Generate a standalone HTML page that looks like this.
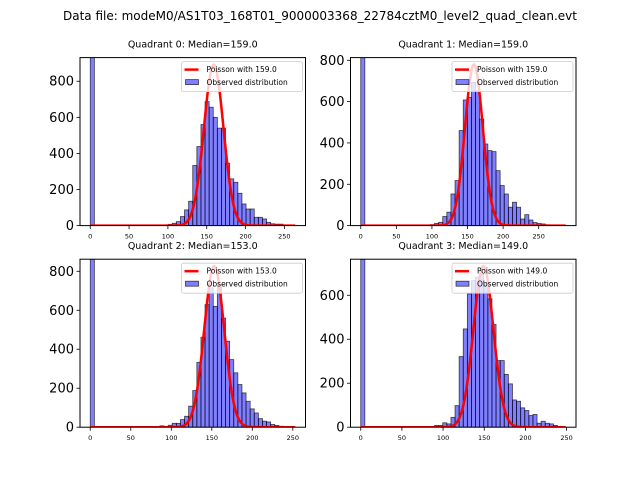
<!DOCTYPE html>
<html><head><meta charset="utf-8">
<style>
body{margin:0;background:#fff;}
svg{display:block;font-family:"DejaVu Sans","Liberation Sans",sans-serif;}
</style></head>
<body>
<svg id="fig" width="640" height="480" viewBox="0 0 640 480">
<rect width="640" height="480" fill="#fff"/>
<text x="320" y="20" text-anchor="middle" font-size="12">Data file: modeM0/AS1T03_168T01_9000003368_22784cztM0_level2_quad_clean.evt</text>
</svg>
<script>
// ---- data ----
const quadNames = ["Quadrant 0","Quadrant 1","Quadrant 2","Quadrant 3"];
const medians = [159.0, 159.0, 153.0, 149.0];
const dataMax = [264, 288, 253, 249];
const yMax = [931, 813, 862, 764];
const poissonPeak = [892, 780, 826, 732];
const yTicks0 = [0,200,400,600,800];
const yTicks1 = [0,200,400,600,800];
const yTicks2 = [0,200,400,600,800];
const yTicks3 = [0,200,400,600];
const xTickLabels = [0,50,100,150,200,250];
const zeroBinCounts = [2000, 2000, 2000, 2000];
const startBins = [18, 17, 17, 18];
const counts0 = [2,7,13,22,50,87,135,333,438,560,687,656,600,540,540,346,259,240,179,120,92,92,46,46,37,18,10,8,8,4];
const counts1 = [5,11,16,44,65,153,218,460,608,620,693,653,516,395,363,358,266,194,153,89,113,89,32,53,27,15,10,8,4];
const counts2 = [7,2,10,20,20,39,56,108,188,333,462,629,715,620,732,560,441,347,279,219,176,133,94,73,44,31,27,14,9,5];
const counts3 = [8,8,20,15,45,98,321,447,606,667,682,697,652,584,467,303,303,240,197,124,118,88,76,53,58,18,27,18,15,8];
const allCounts = [counts0, counts1, counts2, counts3];
const allYTicks = [yTicks0, yTicks1, yTicks2, yTicks3];
const nBins = 50;

// ---- layout ----
const axBoxes = [[80,57.6,225.5,168],[350.5,57.6,225.5,168],[80,259.2,225.5,168],[350.5,259.2,225.5,168]];
const NS = "http://www.w3.org/2000/svg";
const svg = document.getElementById('fig');
function mk(tag, attrs, parent){
  const e = document.createElementNS(NS, tag);
  for (const k in attrs) e.setAttribute(k, attrs[k]);
  (parent||svg).appendChild(e);
  return e;
}

for (let q = 0; q < 4; q++) {
  const [ax, ay, aw, ah] = axBoxes[q];
  const dmax = dataMax[q];
  const xmin = -0.05*dmax, xmax = dmax*1.05;
  const X = v => ax + (v - xmin)/(xmax - xmin)*aw;
  const Y = v => ay + ah - v/yMax[q]*ah;
  const g = mk('g', {});
  
  
  const clip = mk('clipPath', {id:'clip'+q}, g);
  mk('rect', {x:ax, y:ay, width:aw, height:ah}, clip);
  const plot = mk('g', {'clip-path':'url(#clip'+q+')'}, g);
  const bw = dmax / nBins;
  const bins = [zeroBinCounts[q]];
  const startIdx = startBins[q];
  for (let i = 0; i < allCounts[q].length; i++) bins[startIdx + i] = allCounts[q][i];
  for (let i = 0; i < nBins; i++) {
    const c = bins[i] || 0;
    if (c <= 0) continue;
    const r = mk('rect', {x:X(i*bw), y:Y(c), width:X((i+1)*bw)-X(i*bw), height:Y(0)-Y(c),
      fill:'#0000ff', 'fill-opacity':0.5, stroke:'#000', 'stroke-opacity':0.7, 'stroke-width':0.8}, plot);
    
    
  }
  const mu = medians[q];
  let d = '';
  for (let k = 0; k <= dmax; k += 1) {
    const v = poissonPeak[q]*Math.exp(-(k-mu)*(k-mu)/(2*mu));
    d += (k===0?'M':'L') + X(k).toFixed(2) + ',' + Y(v).toFixed(2);
  }
  const line = mk('path', {d:d, fill:'none', stroke:'#ff0000', 'stroke-width':2.5}, plot);
  
  
  const fr = mk('rect', {x:ax, y:ay, width:aw, height:ah, fill:'none', stroke:'#000', 'stroke-width':1}, g);
  
  
  for (const t of allYTicks[q]) {
    const y = Y(t);
    mk('line', {x1:ax-3.5, x2:ax, y1:y, y2:y, stroke:'#000', 'stroke-width':0.8}, g);
    const tl = mk('text', {x:ax-6, y:y+4.5, 'text-anchor':'end', 'font-size':13}, g);
    tl.textContent = t;
    
    
  }
  for (const t of xTickLabels) {
    const x = X(t);
    if (x > ax+aw) continue;
    mk('line', {x1:x, x2:x, y1:ay+ah, y2:ay+ah+3.5, stroke:'#000', 'stroke-width':0.8}, g);
    const tl = mk('text', {x:x, y:ay+ah+13, 'text-anchor':'middle', 'font-size':6.5}, g);
    tl.textContent = t;
    
    
  }
  const tt = mk('text', {x:ax+aw/2, y:ay-10, 'text-anchor':'middle', 'font-size':9.5}, g);
  tt.textContent = quadNames[q] + ': Median=' + medians[q].toFixed(1);
  
  
  const lx = ax + aw - 124, ly = ay + 4;
  const lg = mk('g', {}, g);
  
  
  mk('rect', {x:lx, y:ly, width:121, height:30, rx:2, fill:'#fff', 'fill-opacity':0.8, stroke:'#ccc', 'stroke-width':0.8}, lg);
  mk('line', {x1:lx+3, x2:lx+17, y1:ly+8, y2:ly+8, stroke:'#ff0000', 'stroke-width':2.5}, lg);
  const t1 = mk('text', {x:lx+25, y:ly+10.5, 'font-size':7.5}, lg);
  t1.textContent = 'Poisson with ' + medians[q].toFixed(1);
  
  
  mk('rect', {x:lx+4, y:ly+18, width:13, height:5, fill:'#0000ff', 'fill-opacity':0.5, stroke:'#000', 'stroke-opacity':0.7, 'stroke-width':0.8}, lg);
  const t2 = mk('text', {x:lx+25, y:ly+23.5, 'font-size':7.5}, lg);
  t2.textContent = 'Observed distribution';
  
  
}
</script>
</body></html>
